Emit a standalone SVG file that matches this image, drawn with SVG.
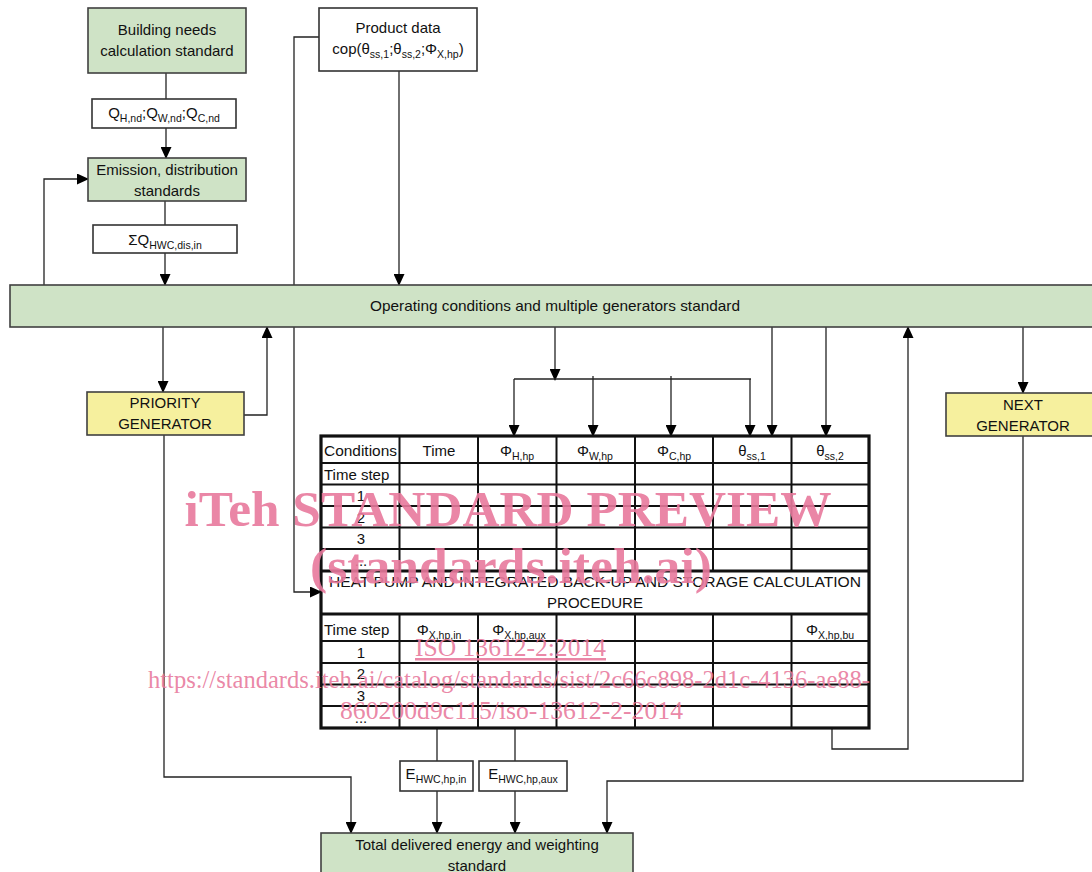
<svg xmlns="http://www.w3.org/2000/svg" width="1092" height="872" viewBox="0 0 1092 872">
<defs>
<marker id="ah" markerUnits="userSpaceOnUse" markerWidth="12" markerHeight="11" refX="11" refY="5.5" orient="auto"><path d="M0,0 L12,5.5 L0,11 Z" fill="#000"/></marker>
<style>
text{font-family:"Liberation Sans",Arial,sans-serif;fill:#111;}
.t{font-size:15px;text-anchor:middle;}
.tl{font-size:15px;}
.s{font-size:10.5px;}
.g{fill:#cfe3c6;stroke:#404040;stroke-width:1.6;}
.y{fill:#f6f09e;stroke:#404040;stroke-width:1.6;}
.w{fill:#fff;stroke:#333;stroke-width:1.6;}
.c{fill:none;stroke:#222;stroke-width:1.3;}
.a{marker-end:url(#ah);}
.tb{fill:none;stroke:#111;stroke-width:2;}
.tk{fill:none;stroke:#111;stroke-width:3.2;}
.wm{font-family:"Liberation Serif","Times New Roman",serif;fill:#e8799c;fill-opacity:0.9;}
</style>
</defs>
<rect width="1092" height="872" fill="#fff"/>

<g id="connectors">
<path class="c" d="M166,73 V99"/>
<path class="c a" d="M166,128 V158"/>
<path class="c" d="M165,201 V225"/>
<path class="c a" d="M165,253 V285"/>
<path class="c a" d="M44,285 V179 H88"/>
<path class="c a" d="M399,71 V285"/>
<path class="c a" d="M319,37 H294 V592 H321"/>
<path class="c a" d="M163,327 V392"/>
<path class="c a" d="M244,415 H267 V327"/>
<path class="c a" d="M555,327 V380"/>
<path class="c" d="M514,379 H751"/>
<path class="c a" d="M514,379 V436"/>
<path class="c a" d="M593,376 V436"/>
<path class="c a" d="M671,376 V436"/>
<path class="c a" d="M750,379 V436"/>
<path class="c a" d="M772,327 V436"/>
<path class="c a" d="M826,327 V436"/>
<path class="c a" d="M832,716 V749 H908 V327"/>
<path class="c a" d="M1023,327 V393"/>
<path class="c a" d="M1023,436 V781 H607 V833"/>
<path class="c a" d="M164,435 V777 H351 V833"/>
<path class="c" d="M437,728 V761"/>
<path class="c a" d="M437,791 V833"/>
<path class="c" d="M515,728 V761"/>
<path class="c a" d="M515,791 V833"/>
</g>

<g id="building">
<rect class="g" x="88" y="8" width="158" height="65"/>
<text class="t" x="167" y="35">Building needs</text>
<text class="t" x="167" y="56">calculation standard</text>
</g>

<g id="product">
<rect class="w" x="319" y="8" width="158" height="63"/>
<text class="t" x="398" y="33">Product data</text>
<text class="t" x="398" y="54">cop(θ<tspan class="s" dy="4">ss,1</tspan><tspan dy="-4">;θ</tspan><tspan class="s" dy="4">ss,2</tspan><tspan dy="-4">;Φ</tspan><tspan class="s" dy="4">X,hp</tspan><tspan dy="-4">)</tspan></text>
</g>

<g id="qlabel">
<rect class="w" x="92" y="99" width="144" height="29"/>
<text class="t" x="164" y="118">Q<tspan class="s" dy="4">H,nd</tspan><tspan dy="-4">;Q</tspan><tspan class="s" dy="4">W,nd</tspan><tspan dy="-4">;Q</tspan><tspan class="s" dy="4">C,nd</tspan></text>
</g>

<g id="emission">
<rect class="g" x="88" y="158" width="158" height="43"/>
<text class="t" x="167" y="175">Emission, distribution</text>
<text class="t" x="167" y="196">standards</text>
</g>

<g id="sigma">
<rect class="w" x="93" y="225" width="144" height="28"/>
<text class="t" x="165" y="245">ΣQ<tspan class="s" dy="4">HWC,dis,in</tspan></text>
</g>

<g id="operating">
<rect class="g" x="10" y="285" width="1090" height="42"/>
<text class="t" x="555" y="311" textLength="370" lengthAdjust="spacingAndGlyphs">Operating conditions and multiple generators standard</text>
</g>

<g id="priority">
<rect class="y" x="87" y="392" width="157" height="43"/>
<text class="t" x="165" y="408">PRIORITY</text>
<text class="t" x="165" y="429">GENERATOR</text>
</g>

<g id="next">
<rect class="y" x="946" y="393" width="150" height="43"/>
<text class="t" x="1023" y="410">NEXT</text>
<text class="t" x="1023" y="431">GENERATOR</text>
</g>

<g id="table">
<rect x="321" y="436" width="548" height="292" fill="#fff"/>
<path class="tb" d="M399.5,436 V571 M478,436 V571 M556.5,436 V571 M635,436 V571 M713,436 V571 M791.5,436 V571"/>
<path class="tb" d="M321,463 H869 M321,484.5 H869 M321,506 H869 M321,527.5 H869 M321,549 H869"/>
<path class="tb" d="M399.5,614 V728 M478,614 V728 M556.5,614 V728 M635,614 V728 M713,614 V728 M791.5,614 V728"/>
<path class="tb" d="M321,641 H869 M321,663 H869 M321,684.5 H869 M321,706 H869"/>
<path class="tk" d="M321,571 H869 M321,614 H869"/>
<rect class="tk" x="321" y="436" width="548" height="292"/>
<text class="tl" x="324" y="456" textLength="73" lengthAdjust="spacingAndGlyphs">Conditions</text>
<text class="t" x="439" y="456">Time</text>
<text class="t" x="517" y="456">Φ<tspan class="s" dy="4">H,hp</tspan></text>
<text class="t" x="595" y="456">Φ<tspan class="s" dy="4">W,hp</tspan></text>
<text class="t" x="674" y="456">Φ<tspan class="s" dy="4">C,hp</tspan></text>
<text class="t" x="752" y="456">θ<tspan class="s" dy="4">ss,1</tspan></text>
<text class="t" x="830" y="456">θ<tspan class="s" dy="4">ss,2</tspan></text>
<text class="tl" x="324" y="480">Time step</text>
<text class="t" x="361" y="501">1</text>
<text class="t" x="361" y="523">2</text>
<text class="t" x="361" y="544">3</text>
<text class="t" x="361" y="566">...</text>
<text class="t" x="595" y="587" textLength="532" lengthAdjust="spacingAndGlyphs">HEAT PUMP AND INTEGRATED BACK-UP AND STORAGE CALCULATION</text>
<text class="t" x="595" y="608">PROCEDURE</text>
<text class="tl" x="324" y="635">Time step</text>
<text class="t" x="439" y="635">Φ<tspan class="s" dy="4">X,hp,in</tspan></text>
<text class="t" x="519" y="635">Φ<tspan class="s" dy="4">X,hp,aux</tspan></text>
<text class="t" x="830" y="635">Φ<tspan class="s" dy="4">X,hp,bu</tspan></text>
<text class="t" x="361" y="658">1</text>
<text class="t" x="361" y="679">2</text>
<text class="t" x="361" y="701">3</text>
<text class="t" x="361" y="723">...</text>
</g>

<g id="ein">
<rect class="w" x="400" y="761" width="73" height="30"/>
<text class="t" x="436" y="779">E<tspan class="s" dy="4">HWC,hp,in</tspan></text>
</g>

<g id="eaux">
<rect class="w" x="479" y="761" width="88" height="30"/>
<text class="t" x="523" y="779">E<tspan class="s" dy="4">HWC,hp,aux</tspan></text>
</g>

<g id="total">
<rect class="g" x="321" y="833" width="312" height="50"/>
<text class="t" x="477" y="850">Total delivered energy and weighting</text>
<text class="t" x="477" y="871">standard</text>
</g>

<g id="watermark">
<text class="wm" x="508" y="526" text-anchor="middle" font-weight="bold" font-size="50" textLength="647" lengthAdjust="spacingAndGlyphs">iTeh STANDARD PREVIEW</text>
<text class="wm" x="511" y="583" text-anchor="middle" font-weight="bold" font-size="50" textLength="402" lengthAdjust="spacingAndGlyphs">(standards.iteh.ai)</text>
<text class="wm" x="415" y="656" font-size="25" textLength="191" lengthAdjust="spacingAndGlyphs" text-decoration="underline">ISO 13612-2:2014</text>
<text class="wm" x="148" y="688" font-size="25" textLength="722" lengthAdjust="spacingAndGlyphs">https://standards.iteh.ai/catalog/standards/sist/2c66c898-2d1c-4136-ae88-</text>
<text class="wm" x="340" y="719" font-size="25" textLength="343" lengthAdjust="spacingAndGlyphs">860200d9c115/iso-13612-2-2014</text>
</g>
</svg>
